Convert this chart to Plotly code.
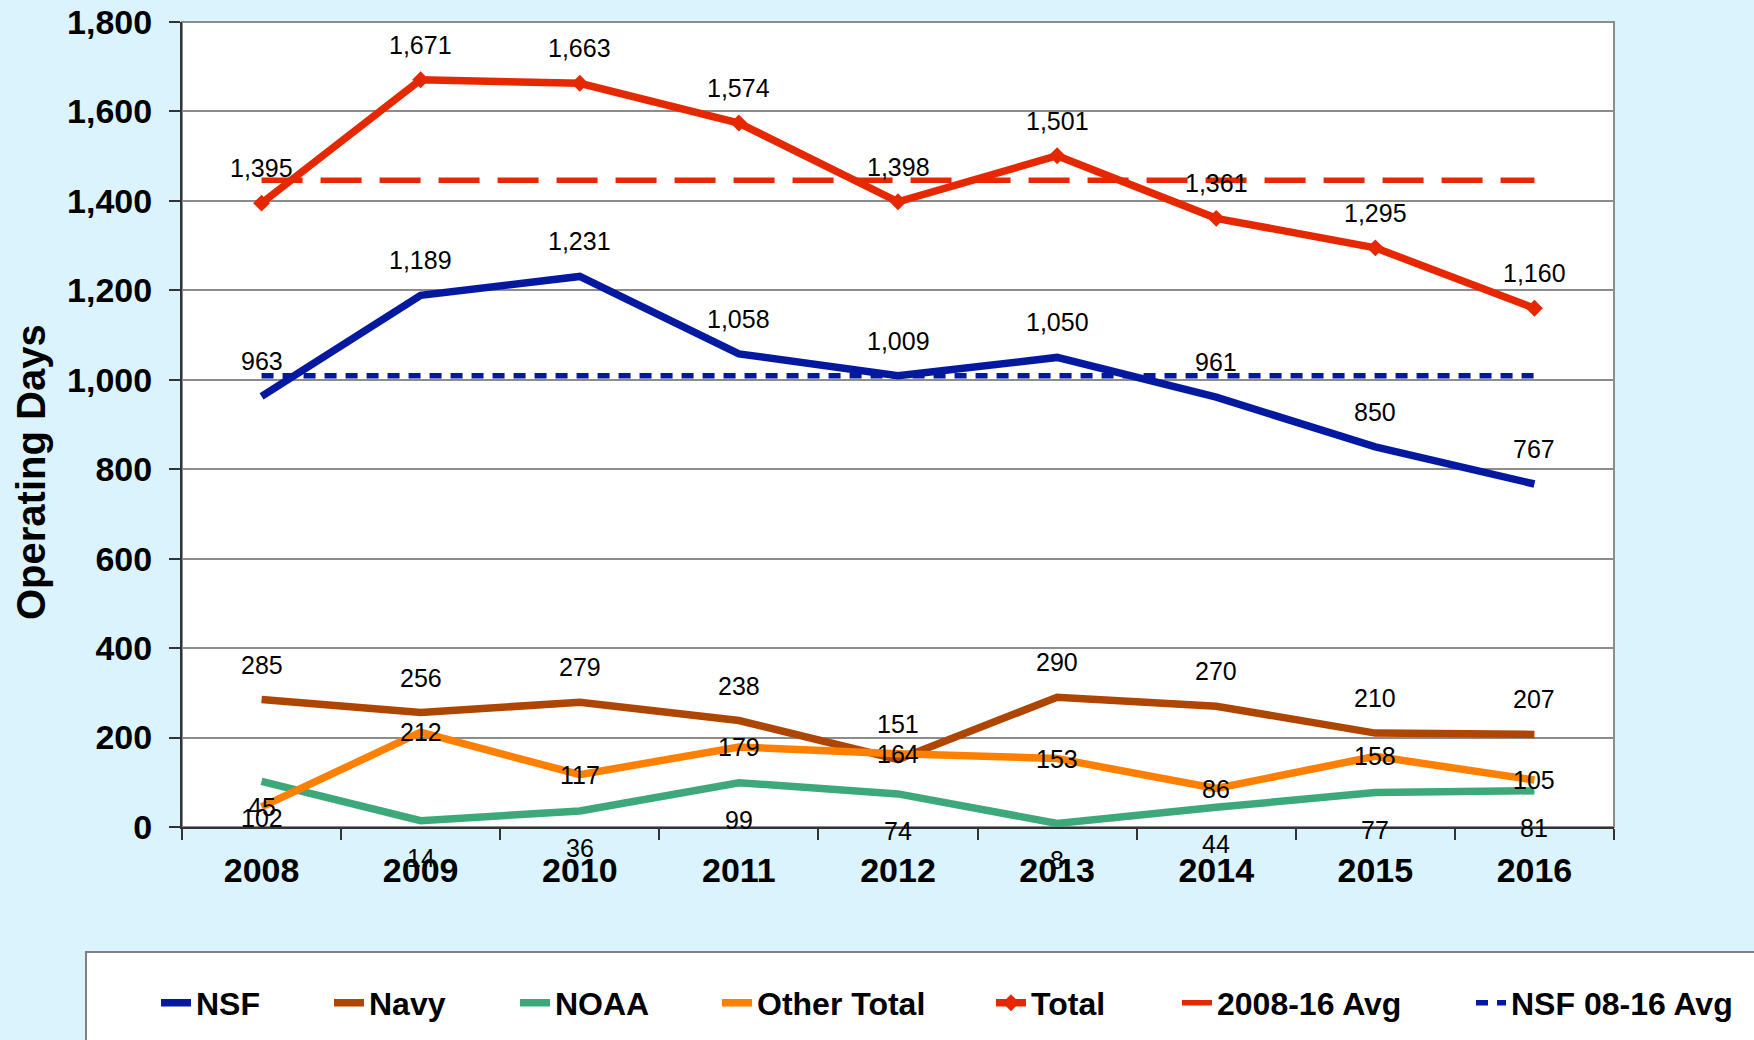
import plotly.graph_objects as go

years = ["2008", "2009", "2010", "2011", "2012", "2013", "2014", "2015", "2016"]
nsf = [963, 1189, 1231, 1058, 1009, 1050, 961, 850, 767]
navy = [285, 256, 279, 238, 151, 290, 270, 210, 207]
noaa = [102, 14, 36, 99, 74, 8, 44, 77, 81]
other_total = [45, 212, 117, 179, 164, 153, 86, 158, 105]
total = [1395, 1671, 1663, 1574, 1398, 1501, 1361, 1295, 1160]
total_avg = [1446] * 9
nsf_avg = [1009] * 9
y_ticks = [0, 200, 400, 600, 800, 1000, 1200, 1400, 1600, 1800]

W, H = 1754, 1040
L, R, T, B = 182, 140, 22, 213
PW, PH = W - L - R, H - T - B

def px_x(p):
    return (p - L) / PW

def px_y(p):
    return (H - B - p) / PH

FONT = "Arial, Liberation Sans, sans-serif"
C_NSF = "#0519A0"
C_NAVY = "#AE4500"
C_NOAA = "#3DA97B"
C_OTHER = "#FF8000"
C_TOTAL = "#E52800"

fig = go.Figure()

series = [
    ("NSF", nsf, C_NSF, dict(width=7.5), "legend", None),
    ("Navy", navy, C_NAVY, dict(width=7.5), "legend2", None),
    ("NOAA", noaa, C_NOAA, dict(width=7.5), "legend3", None),
    ("Other Total", other_total, C_OTHER, dict(width=7.5), "legend4", None),
    ("Total", total, C_TOTAL, dict(width=7.5), "legend5", dict(symbol="diamond", size=13, color=C_TOTAL)),
    ("2008-16 Avg", total_avg, C_TOTAL, dict(width=5.5, dash="41px,18px"), "legend6", None),
    ("NSF 08-16 Avg", nsf_avg, C_NSF, dict(width=5.5, dash="12px,9px"), "legend7", None),
]

for name, vals, col, ln, lg, mk in series:
    fig.add_trace(go.Scatter(
        x=years, y=vals, name=name,
        mode="lines+markers" if mk else "lines",
        line=dict(color=col, **ln),
        marker=mk,
        legend=lg,
        hoverinfo="x+y+name",
    ))

# data labels (x given as category index)
annos = []
label_specs = [
    (total, 35),
    (nsf, 35),
    (navy, 35),
    (other_total, 0),
    (noaa, -37),
]
for vals, shift in label_specs:
    for i, v in enumerate(vals):
        annos.append(dict(
            x=i, y=v, xref="x", yref="y", text=f"{v:,}", showarrow=False,
            yshift=shift, font=dict(family=FONT, size=25, color="#000"),
        ))

# y axis title
annos.append(dict(
    x=px_x(31), y=px_y(472), xref="paper", yref="paper", text="<b>Operating Days</b>",
    textangle=-90, showarrow=False, xanchor="center", yanchor="middle",
    font=dict(family=FONT, size=40, color="#000"),
))

# legend positions (text start pixels)
text_starts = [198, 371, 557, 759, 1033, 1219, 1513]
legend_y = px_y(1003)
legend_layout = {}
for i, ts in enumerate(text_starts):
    key = "legend" if i == 0 else f"legend{i+1}"
    legend_layout[key] = dict(
        x=px_x(ts - 42), xanchor="left", y=legend_y, yanchor="middle",
        orientation="h", bgcolor="rgba(0,0,0,0)", borderwidth=0,
        font=dict(family=FONT, size=32, color="#000", weight="bold"),
        tracegroupgap=0,
    )

fig.update_layout(
    width=W, height=H,
    margin=dict(l=L, r=R, t=T, b=B, pad=0, autoexpand=False),
    paper_bgcolor="#DBF3FD",
    plot_bgcolor="#FFFFFF",
    showlegend=True,
    annotations=annos,
    shapes=[
        dict(type="rect", xref="paper", yref="paper",
             x0=px_x(86), x1=px_x(1780), y0=px_y(952), y1=px_y(1060),
             fillcolor="#FFFFFF", line=dict(color="#808080", width=2), layer="below"),
        dict(type="rect", xref="paper", yref="paper", x0=0, x1=1, y0=0, y1=1,
             fillcolor="rgba(0,0,0,0)", line=dict(color="#8C8C8C", width=2), layer="below"),
    ],
    **legend_layout,
)

fig.update_xaxes(
    type="category", range=[-0.5, 8.5], tickson="boundaries",
    ticks="outside", ticklen=11, tickwidth=1.5, tickcolor="#333",
    showline=True, linecolor="#333", linewidth=2,
    showgrid=False, ticklabelstandoff=12, automargin=False,
    tickfont=dict(family=FONT, size=34, color="#000", weight="bold"),
)
fig.update_yaxes(
    range=[0, 1800], tickvals=y_ticks, tickformat=",",
    ticks="outside", ticklen=11, tickwidth=1.5, tickcolor="#333",
    showline=True, linecolor="#333", linewidth=2,
    showgrid=True, gridcolor="#8C8C8C", gridwidth=1.5, zeroline=False,
    ticklabelstandoff=10, automargin=False,
    tickfont=dict(family=FONT, size=34, color="#000", weight="bold"),
)

fig.write_html("out.html", config={"displayModeBar": False},
               post_script="document.body.style.margin='0';document.body.style.overflow='hidden';")
